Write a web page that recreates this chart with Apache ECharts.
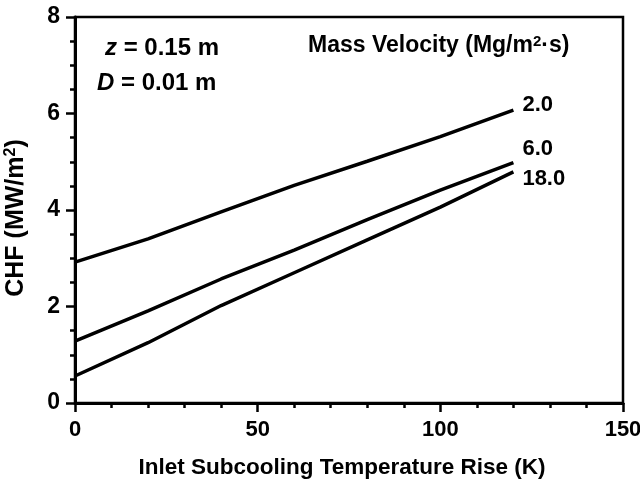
<!DOCTYPE html>
<html><head><meta charset="utf-8">
<script src="https://cdn.jsdelivr.net/npm/echarts@6/dist/echarts.min.js"></script>
<style>html,body{margin:0;padding:0;background:#fff}#c{width:640px;height:483px}</style>
</head><body><div id="c"></div>
<script>
const xValues = [0, 20, 40, 60, 80, 100, 120];
const seriesNames = ['2.0', '6.0', '18.0'];
const g2 = [2.92, 3.40, 3.96, 4.51, 5.01, 5.52, 6.07];
const g6 = [1.28, 1.91, 2.57, 3.17, 3.80, 4.41, 4.98];
const g18 = [0.56, 1.25, 2.02, 2.70, 3.38, 4.06, 4.79];
const xTicks = [0, 50, 100, 150];
const yTicks = [0, 2, 4, 6, 8];

const F = 'Liberation Sans, Arial, Helvetica, sans-serif';
const chart = echarts.init(document.getElementById('c'));
const pairs = v => xValues.map((x, i) => [x, v[i]]);
const endOffsets = [[1, -5], [1, -14], [1, 7]];
const mk = (name, vals, k) => ({
  name, type: 'line', data: pairs(vals), symbol: 'none', smooth: false,
  lineStyle: { color: '#000', width: 3.5 },
  endLabel: { show: true, formatter: '{a}', offset: endOffsets[k], color: '#000', fontFamily: F, fontSize: 22, fontWeight: 'bold' },
  animation: false
});
chart.setOption({
  animation: false,
  grid: { left: 75, right: 17, top: 17, bottom: 80, outerBoundsMode: 'none', containLabel: false,
    show: true, borderColor: '#000', borderWidth: 2.5 },
  xAxis: {
    type: 'value', min: xTicks[0], max: xTicks[xTicks.length - 1], interval: 50,
    name: 'Inlet Subcooling Temperature Rise (K)', nameLocation: 'middle', nameGap: 53,
    nameTextStyle: { color: '#000', fontFamily: F, fontSize: 22.5, fontWeight: 'bold', padding: [0, 14, 0, 0] },
    axisLine: { lineStyle: { color: '#000', width: 3 } },
    axisTick: { show: true, inside: false, length: 9, lineStyle: { color: '#000', width: 2.5 } },
    minorTick: { show: true, splitNumber: 5, length: 5, lineStyle: { color: '#000', width: 2.5 } },
    splitLine: { show: false },
    axisLabel: { color: '#000', fontFamily: F, fontSize: 22, fontWeight: 'bold', margin: 16 }
  },
  yAxis: {
    type: 'value', min: yTicks[0], max: yTicks[yTicks.length - 1], interval: 2,
    name: '{a|CHF (MW/m}{s|2}{a|)}', nameLocation: 'middle', nameGap: 45,
    nameTextStyle: { color: '#000', padding: [0, 16, 0, 0], rich: {
      a: { fontFamily: F, fontSize: 25, fontWeight: 'bold', color: '#000' },
      s: { fontFamily: F, fontSize: 16, fontWeight: 'bold', color: '#000', verticalAlign: 'top', padding: [0, 0, 11, 0] } } },
    axisLine: { lineStyle: { color: '#000', width: 3 } },
    axisTick: { show: true, inside: false, length: 9, lineStyle: { color: '#000', width: 2.5 } },
    minorTick: { show: true, splitNumber: 4, length: 5, lineStyle: { color: '#000', width: 2.5 } },
    splitLine: { show: false },
    axisLabel: { color: '#000', fontFamily: F, fontSize: 23, fontWeight: 'bold', margin: 15 }
  },
  series: [mk(seriesNames[0], g2, 0), mk(seriesNames[1], g6, 1), mk(seriesNames[2], g18, 2)],
  graphic: [
    { type: 'text', left: 105, top: 36, style: { text: '{i|z} = 0.15 m', fill: '#000', font: 'bold 24px ' + F,
      rich: { i: { fontStyle: 'italic', fontWeight: 'bold', fontSize: 24, fontFamily: F } } } },
    { type: 'text', left: 97, top: 71, style: { text: '{i|D} = 0.01 m', fill: '#000', font: 'bold 24px ' + F,
      rich: { i: { fontStyle: 'italic', fontWeight: 'bold', fontSize: 24, fontFamily: F } } } },
    { type: 'text', left: 308, top: 34, style: { text: 'Mass Velocity (Mg/m{s|2}\u00B7s)', fill: '#000', font: 'bold 23px ' + F,
      rich: { s: { fontSize: 15, fontWeight: 'bold', fontFamily: F, verticalAlign: 'top', padding: [0, 0, 9, 0] } } } }
  ]
});
</script></body></html>
